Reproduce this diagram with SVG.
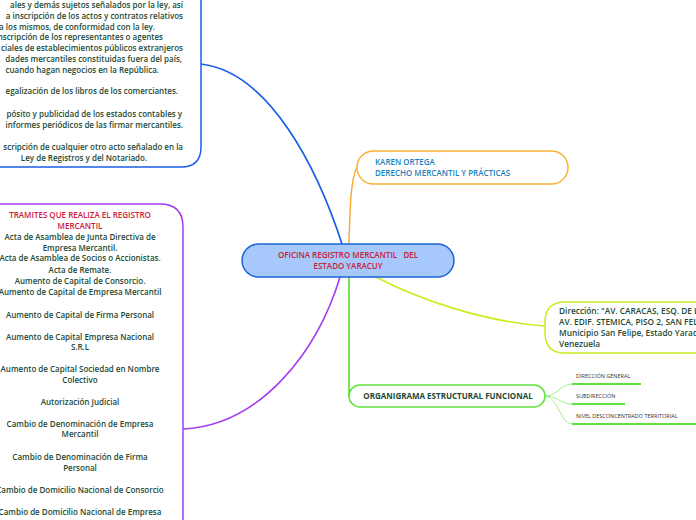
<svg xmlns="http://www.w3.org/2000/svg" width="696" height="520" viewBox="0 0 696 520">
<style>
text{font-family:"Open Sans","Noto Sans","DejaVu Sans",sans-serif;}
.b{font-size:8px;font-weight:600;fill:#1d4a36;}
.r{font-size:8px;font-weight:600;fill:#c8203c;}
.k{font-size:8px;font-weight:600;fill:#1a7fc1;}
.s{font-size:5.5px;fill:#333;}
.c{fill:none;stroke-linecap:round;}
</style>
<rect width="696" height="520" fill="#fff"/>
<g id="connectors">
<path class="c" d="M342,244 C318,170 270,72 201,64" stroke="#1a5fe6" stroke-width="1.7"/>
<path class="c" d="M349,244 C350,205 351,178 357,167" stroke="#f9a928" stroke-width="1.4"/>
<path class="c" d="M340,277 C318,350 262,425 183,429" stroke="#a43cf0" stroke-width="1.6"/>
<path class="c" d="M376,277 C420,300 485,322 545,326" stroke="#c5ee1e" stroke-width="1.6"/>
<path class="c" d="M349,277 L349,396" stroke="#5fe23a" stroke-width="1.7"/>
<path class="c" d="M545,396 C558,396 560,384 572,384" stroke="#8fec6e" stroke-width="0.8"/>
<path class="c" d="M545,396 C558,396 560,404 572,404" stroke="#8fec6e" stroke-width="0.8"/>
<path class="c" d="M545,396 C558,396 560,424 572,424" stroke="#8fec6e" stroke-width="0.8"/>
</g>
<g id="n-blue">
<path d="M-10,-10 L201,-10 L201,147 Q201,167 181,167 L-10,167 Z" fill="#fff" stroke="#1a5fe6" stroke-width="1.5"/>
<g text-anchor="end">
<text class="b" x="183" y="8">ales y demás sujetos señalados por la ley, así</text>
<text class="b" x="183" y="19">a inscripción de los actos y contratos relativos</text>
<text class="b" x="155" y="30">a los mismos, de conformidad con la ley.</text>
<text class="b" x="163" y="40">inscripción de los representantes o agentes</text>
<text class="b" x="183" y="51">ciales de establecimientos públicos extranjeros</text>
<text class="b" x="182" y="62">dades mercantiles constituidas fuera del país,</text>
<text class="b" x="159" y="73">cuando hagan negocios en la República.</text>
<text class="b" x="178" y="94">egalización de los libros de los comerciantes.</text>
<text class="b" x="182" y="117">pósito y publicidad de los estados contables y</text>
<text class="b" x="183" y="128">informes periódicos de las firmar mercantiles.</text>
<text class="b" x="183" y="150">scripción de cualquier otro acto señalado en la</text>
</g>
<text class="b" x="84" y="161" text-anchor="middle">Ley de Registros y del Notariado.</text>
</g>
<g id="n-tramites">
<path d="M-10,204 L160,204 Q183,204 183,227 L183,530 L-10,530 Z" fill="#fff" stroke="#a43cf0" stroke-width="1.5"/>
<g text-anchor="middle">
<text class="r" x="80" y="218">TRAMITES QUE REALIZA EL REGISTRO</text>
<text class="r" x="80" y="229">MERCANTIL</text>
<text class="b" x="80" y="240">Acta de Asamblea de Junta Directiva de</text>
<text class="b" x="80" y="251">Empresa Mercantil.</text>
<text class="b" x="80" y="261">Acta de Asamblea de Socios o Accionistas.</text>
<text class="b" x="80" y="273">Acta de Remate.</text>
<text class="b" x="80" y="284">Aumento de Capital de Consorcio.</text>
<text class="b" x="80" y="295">Aumento de Capital de Empresa Mercantil</text>
<text class="b" x="80" y="318">Aumento de Capital de Firma Personal</text>
<text class="b" x="80" y="340">Aumento de Capital Empresa Nacional</text>
<text class="b" x="80" y="350">S.R.L</text>
<text class="b" x="80" y="372">Aumento de Capital Sociedad en Nombre</text>
<text class="b" x="80" y="383">Colectivo</text>
<text class="b" x="80" y="405">Autorización Judicial</text>
<text class="b" x="80" y="427">Cambio de Denominación de Empresa</text>
<text class="b" x="80" y="437">Mercantil</text>
<text class="b" x="80" y="460">Cambio de Denominación de Firma</text>
<text class="b" x="80" y="471">Personal</text>
<text class="b" x="80" y="493">Cambio de Domicilio Nacional de Consorcio</text>
<text class="b" x="80" y="515">Cambio de Domicilio Nacional de Empresa</text>
</g>
</g>
<g id="n-center">
<rect x="242" y="244" width="212" height="33" rx="16.5" fill="#a6c8fa" stroke="#1e63d6" stroke-width="1.5"/>
<text class="r" x="348" y="258" text-anchor="middle" xml:space="preserve">OFICINA REGISTRO MERCANTIL   DEL</text>
<text class="r" x="348" y="269" text-anchor="middle">ESTADO YARACUY</text>
</g>
<g id="n-karen">
<rect x="357" y="151" width="211" height="33" rx="16.5" fill="#fff" stroke="#f9b233" stroke-width="1.5"/>
<text class="k" x="375" y="165">KAREN ORTEGA</text>
<text class="k" x="375" y="176">DERECHO MERCANTIL Y PRÁCTICAS</text>
</g>
<g id="n-direccion">
<path d="M705,302 L565,302 Q545,302 545,322 L545,333 Q545,353 565,353 L705,353" fill="#fff" stroke="#c5ee1e" stroke-width="1.5"/>
<text class="b" x="559" y="314" style="font-size:8.3px">Dirección: "AV. CARACAS, ESQ. DE L</text>
<text class="b" x="559" y="325" style="font-size:8.3px">AV. EDIF. STEMICA, PISO 2, SAN FEL</text>
<text class="b" x="559" y="336" style="font-size:8.3px">Municipio San Felipe, Estado Yarac</text>
<text class="b" x="559" y="347" style="font-size:8.3px">Venezuela</text>
</g>
<g id="n-organigrama">
<rect x="349" y="385" width="196" height="22" rx="11" fill="#fff" stroke="#5fe23a" stroke-width="1.5"/>
<text class="b" x="448" y="399" text-anchor="middle" style="font-weight:700">ORGANIGRAMA ESTRUCTURAL FUNCIONAL</text>
</g>
<g id="n-dg">
<line x1="572" y1="384" x2="641" y2="384" stroke="#5fe23a" stroke-width="2"/>
<text class="s" x="576" y="378">DIRECCIÓN GENERAL</text>
</g>
<g id="n-sub">
<line x1="572" y1="404" x2="625" y2="404" stroke="#5fe23a" stroke-width="2"/>
<text class="s" x="576" y="398">SUBDIRECCIÓN</text>
</g>
<g id="n-nivel">
<line x1="572" y1="424" x2="696" y2="424" stroke="#5fe23a" stroke-width="2"/>
<text class="s" x="576" y="418">NIVEL DESCONCENTRADO TERRITORIAL</text>
</g>
</svg>
